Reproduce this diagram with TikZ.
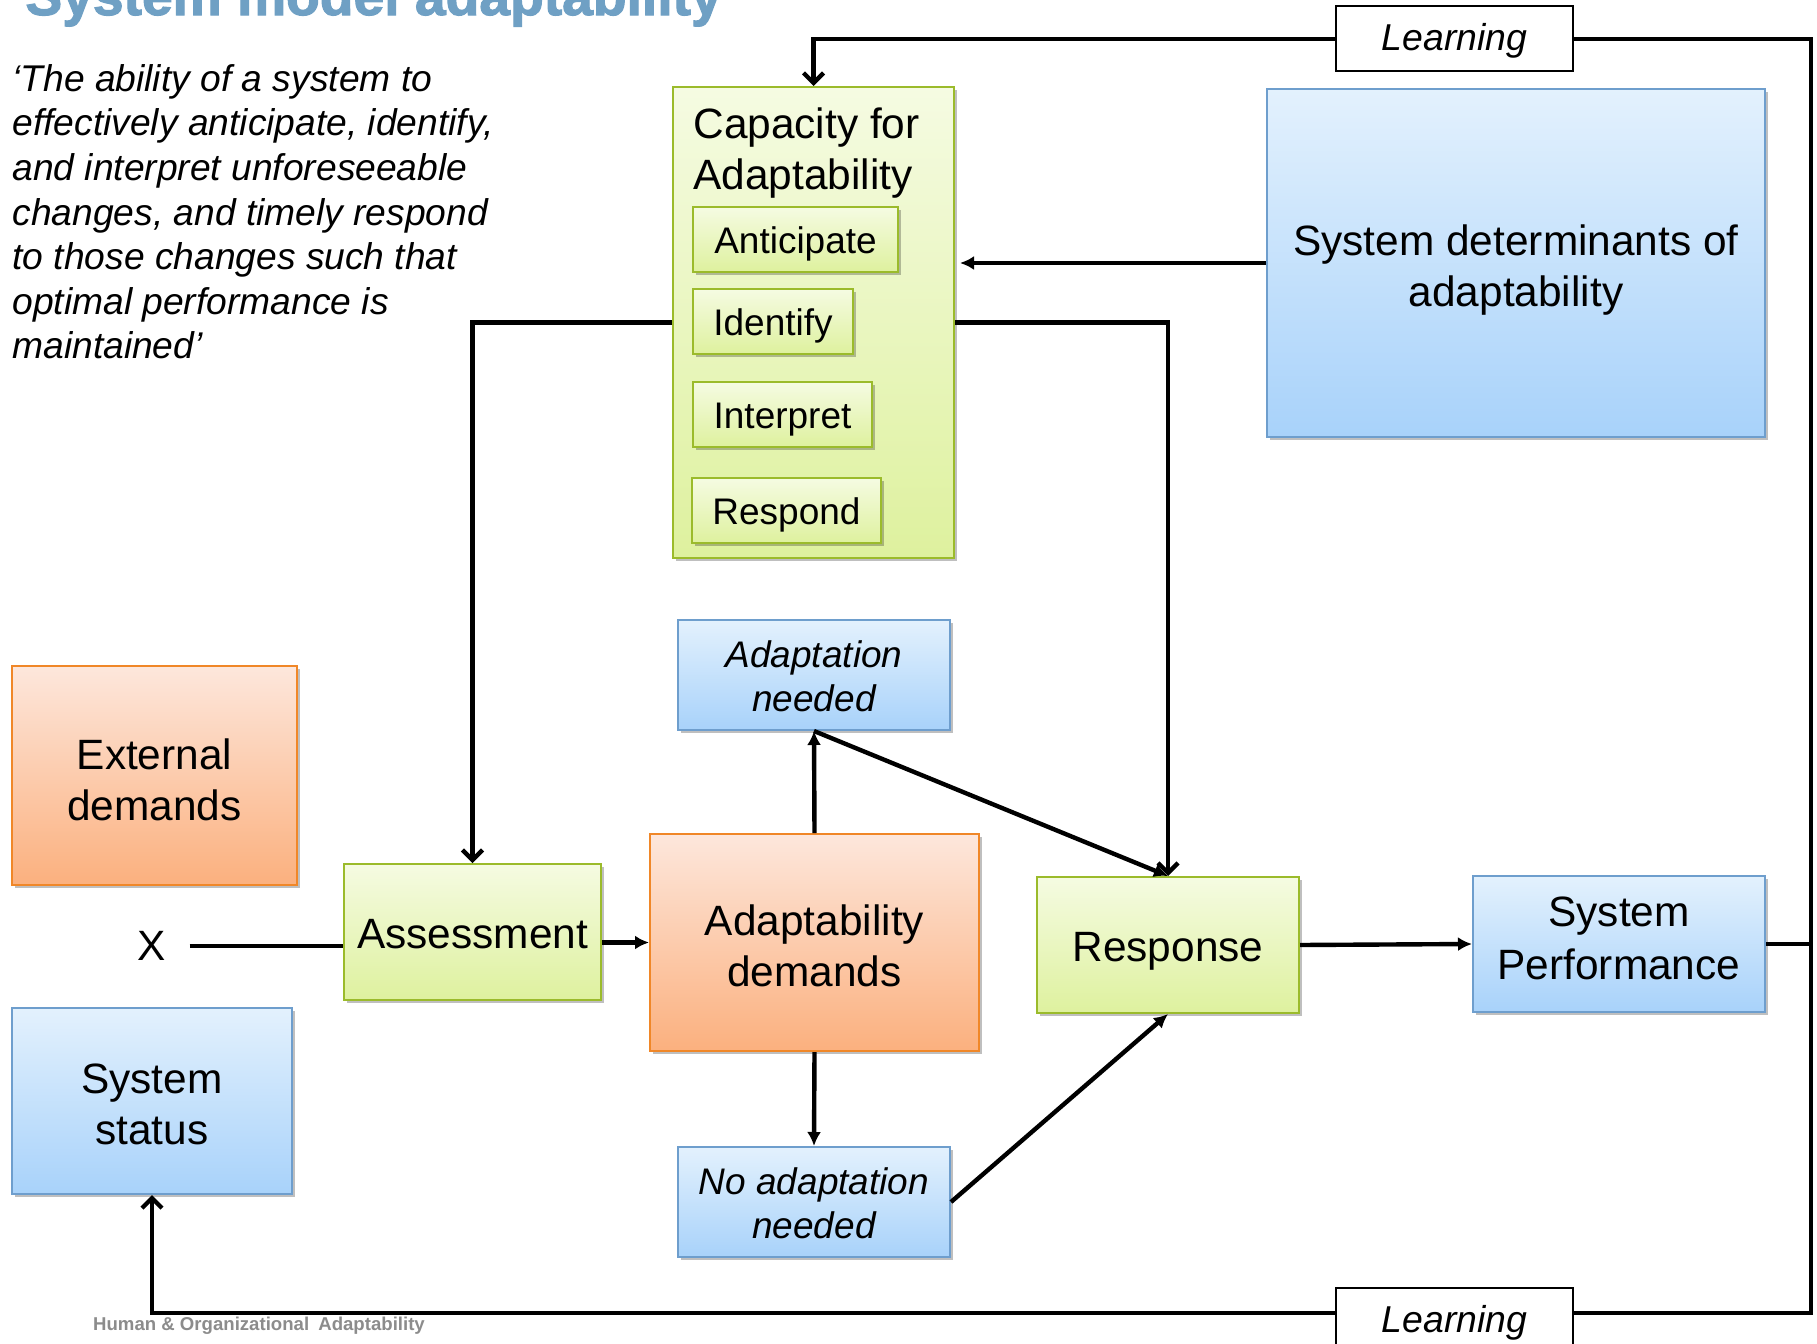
\documentclass[tikz,border=0pt]{standalone}
\usepackage{fontspec}
\setmainfont{Liberation Sans}
\usetikzlibrary{arrows.meta,shadows,calc}
\definecolor{gtop}{RGB}{245,251,226}
\definecolor{gbot}{RGB}{222,241,158}
\definecolor{gborder}{RGB}{155,187,43}
\definecolor{btop}{RGB}{227,241,253}
\definecolor{bbot}{RGB}{168,210,250}
\definecolor{bborder}{RGB}{110,158,205}
\definecolor{otop}{RGB}{253,231,220}
\definecolor{obot}{RGB}{251,176,126}
\definecolor{oborder}{RGB}{240,135,40}
\definecolor{titleblue}{RGB}{111,160,196}
\definecolor{footgray}{RGB}{140,140,140}
% two lines with fixed first-line height and last-line depth
\newcommand{\twolines}[4]{\rule{0pt}{#1}#3\\#4\rule[-#2]{0pt}{#2}}
\tikzset{
  myshadow/.style={drop shadow={shadow xshift=1.5pt,shadow yshift=-1.5pt,opacity=0.25,fill=black}},
  box/.style={draw, line width=1pt, align=center, inner sep=0pt, myshadow},
  gbox/.style={box, draw=gborder, top color=gtop, bottom color=gbot},
  bbox/.style={box, draw=bborder, top color=btop, bottom color=bbot},
  obox/.style={box, draw=oborder, top color=otop, bottom color=obot},
  big/.style={font=\fontsize{21.2}{25.5}\selectfont},
  bigone/.style={big, text height=16.3pt, text depth=0pt},
  mid/.style={font=\fontsize{18.5}{21}\selectfont, text height=14pt, text depth=0pt},
  midit/.style={font=\fontsize{18.5}{22}\selectfont\itshape},
  learnbox/.style={draw, fill=white, line width=1pt, minimum width=118.5pt, minimum height=32.5pt, inner sep=0pt, text height=12pt, text depth=0pt, font=\fontsize{18.7}{21}\selectfont\itshape},
  conn/.style={line width=2.2pt, line join=miter},
  fa/.style={conn, -{Latex[length=7pt,width=7pt]}},
  oa/.style={conn, -{Straight Barb[length=5pt,width=10pt]}}
}
\begin{document}
\begin{tikzpicture}[x=0.5pt,y=-0.5pt]
\useasboundingbox (0,0) rectangle (1817,1344);
\fill[white] (0,0) rectangle (1817,1344);

% title (cut by top edge)
\node[anchor=base west, inner sep=0pt, text=titleblue, font=\fontsize{27.6}{30}\selectfont\bfseries\addfontfeature{FakeBold=2}] (title) at (25,15) {System model adaptability};

% quote
\node[anchor=north west, inner sep=0pt, align=left, font=\fontsize{18.6}{22.3}\selectfont\itshape] (quote) at (12,64)
{‘The ability of a system to\\effectively anticipate, identify,\\and interpret unforeseeable\\changes, and timely respond\\to those changes such that\\optimal performance is\\maintained’};

% capacity block
\node[gbox, minimum width=140.5pt, minimum height=235.5pt] (cap) at (813.5,322.5) {};
\node[anchor=north west, inner sep=0pt, align=left, big] (captext) at (693,107) {Capacity for\\Adaptability};
\node[gbox, mid, minimum width=102.5pt, minimum height=32.5pt] (antic) at (795.5,239.5) {Anticipate};
\node[gbox, mid, minimum width=80pt, minimum height=32.5pt] (ident) at (773,321.5) {Identify};
\node[gbox, mid, minimum width=89.5pt, minimum height=32.5pt] (interp) at (782.5,414.5) {Interpret};
\node[gbox, mid, minimum width=94.5pt, minimum height=32.5pt] (respd) at (786.5,510.5) {Respond};

% other boxes
\node[bbox, big, minimum width=249pt, minimum height=174pt] (sysdet) at (1516,263) {\twolines{23pt}{5pt}{System determinants of}{adaptability}};
\node[obox, big, minimum width=142.5pt, minimum height=109.5pt] (extdem) at (154.5,775.5) {\twolines{24.5pt}{5pt}{External}{demands}};
\node[bbox, big, minimum width=140pt, minimum height=93pt] (status) at (152,1101) {\twolines{23pt}{5pt}{System}{status}};
\node[font=\fontsize{21.2}{25.5}\selectfont, inner ysep=0pt, inner xsep=11.5pt] (xlbl) at (152,946) {X};
\node[gbox, bigone, minimum width=128.5pt, minimum height=68pt] (assess) at (472.5,932) {Assessment};
\node[obox, big, minimum width=164.5pt, minimum height=108.5pt] (adem) at (814.5,942.5) {\twolines{23pt}{5pt}{Adaptability}{demands}};
\node[bbox, midit, minimum width=136pt, minimum height=55pt] (aneed) at (814,675) {\twolines{19.5pt}{5pt}{Adaptation}{needed}};
\node[bbox, midit, minimum width=136pt, minimum height=55pt] (noneed) at (814,1202) {\twolines{19.5pt}{5pt}{No adaptation}{needed}};
\node[gbox, bigone, minimum width=131pt, minimum height=68pt] (resp) at (1168,945) {Response};
\node[bbox, font=\fontsize{21.2}{26.5}\selectfont, minimum width=146pt, minimum height=68pt] (sysperf) at (1619,944) {\twolines{16pt}{7.5pt}{System}{Performance}};

\coordinate (rtop) at (1811,39);
\coordinate (rbot) at (1811,1313);

% connectors
\draw[fa, shorten >=2.5pt] (sysdet.west) -- (sysdet.west -| cap.east);
\draw[oa] (cap.west) -| (assess.north);
\draw[oa] (cap.east) -| (resp.north);
\draw[conn] (xlbl.east) -- (xlbl.east -| assess.west);
\draw[fa] (assess.east |- adem.west) -- (adem.west);
\draw[fa] (adem.north) -- (aneed.south);
\draw[fa] (aneed.south) -- (resp.north);
\draw[fa] (adem.south) -- (noneed.north);
\draw[fa] (noneed.east) -- (resp.south);
\draw[fa] (resp.east) -- (sysperf.west);
\draw[oa] (sysperf.east) -| (rtop) -| (cap.north);
\draw[oa] (rtop) -- (rbot) -| (status.south);

% learning labels on the loop
\node[learnbox] (learn1) at (1454.5,38.5) {Learning};
\node[learnbox] (learn2) at (1454.5,1320) {Learning};

% footer
\node[inner sep=0pt, text=footgray, font=\fontsize{9.3}{11}\selectfont\bfseries] (footer) at (259,1326) {Human \& Organizational\hspace{2pt} Adaptability};
\end{tikzpicture}
\end{document}
